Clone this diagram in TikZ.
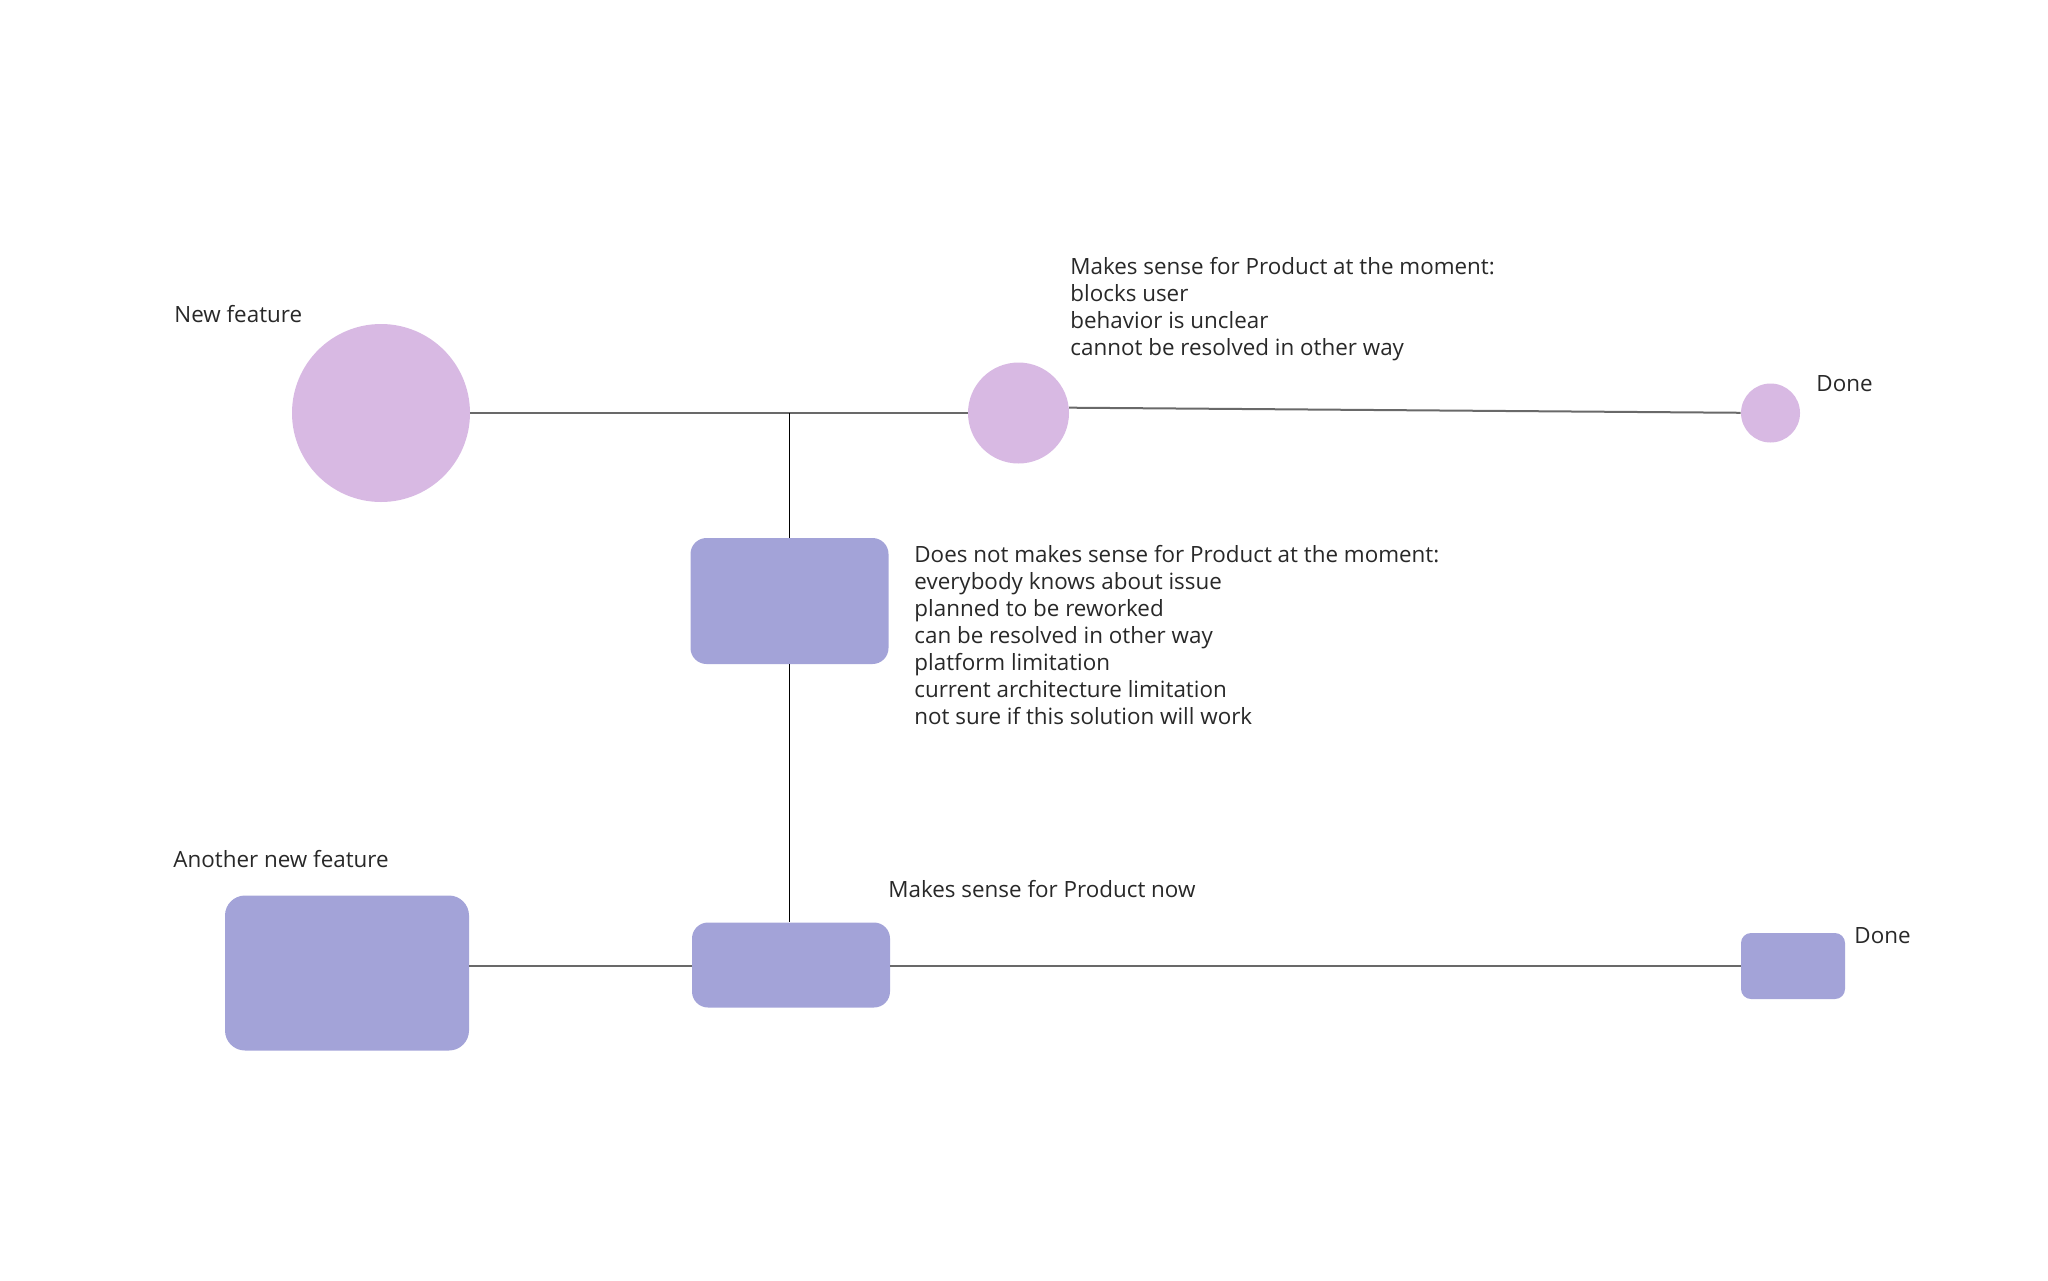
\documentclass[tikz,border=0pt]{standalone}
\usepackage{fontspec}
\setmainfont{Open Sans}
\usepackage{xcolor}
\usetikzlibrary{positioning,calc}

\definecolor{featpink}{RGB}{216,185,227}
\definecolor{featblue}{RGB}{163,163,216}
\definecolor{linegray}{RGB}{105,105,105}
\definecolor{textgray}{RGB}{40,40,40}

\begin{document}
\begin{tikzpicture}[x=0.5pt,y=-0.5pt,
	every node/.style={font=\fontsize{11.2}{13.5}\selectfont, text=textgray, inner sep=0pt},
	dot/.style={circle, fill=featpink},
	card/.style={rectangle, rounded corners=8pt, fill=featblue},
	txt/.style={anchor=base west},
	block/.style={anchor=north west, align=left},
	hline/.style={linegray, line width=1pt},
	vline/.style={black, line width=0.7pt}]
	\useasboundingbox (0,0) rectangle (2048,1280);

	% circles of the first feature
	\node[dot, minimum size=89pt]   (newc)  at (381,413)    {};
	\node[dot, minimum size=50.5pt] (midc)  at (1018.5,413) {};
	\node[dot, minimum size=29.5pt] (donec) at (1770.5,413) {};

	% boxes
	\node[card, minimum width=99pt, minimum height=63pt]   (nobox)   at (789.5,601) {};
	\node[card, minimum width=122pt, minimum height=77.5pt, rounded corners=10pt] (anbox) at (347,973) {};
	\node[card, minimum width=99pt, minimum height=42.5pt] (nowbox)  at (791,965)  {};
	\node[card, minimum width=52pt, minimum height=33pt, rounded corners=5pt] (donebox) at (1793,966) {};

	% texts
	\node[txt] (newt) at (174,322) {New feature};
	\node[block] (sensetxt) at (1070,257) {Makes sense for Product at the moment:\\blocks user\\behavior is unclear\\cannot be resolved in other way};
	\node[txt] (donet) at (1816,391) {Done};
	\node[block] (nosensetxt) at (914,545) {Does not makes sense for Product at the moment:\\everybody knows about issue\\planned to be reworked\\can be resolved in other way\\platform limitation\\current architecture limitation\\not sure if this solution will work};
	\node[txt] (anothert) at (173,867) {Another new feature};
	\node[txt] (nowt) at (888,897) {Makes sense for Product now};
	\node[txt] (donet2) at (1854,943) {Done};

	% connections
	\draw[hline] (newc) -- (midc);
	\draw[hline] (midc.6) -- (donec);
	\draw[vline] (nobox.north) -- (nobox.north |- newc.east);
	\draw[vline] (nobox.south) -- (nobox.south |- nowbox.north);
	\draw[hline] (anbox.east |- donebox.west) -- (nowbox.west |- donebox.west);
	\draw[hline] (nowbox.east |- donebox.west) -- (donebox.west);
\end{tikzpicture}
\end{document}
